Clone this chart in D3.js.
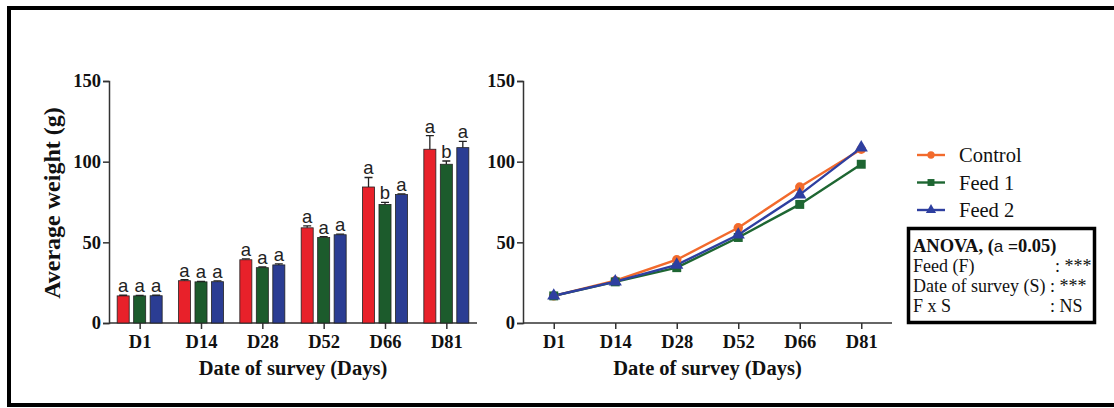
<!DOCTYPE html>
<html>
<head>
<meta charset="utf-8">
<script src="https://cdn.jsdelivr.net/npm/d3@7"></script>
<style>
  html, body { margin: 0; padding: 0; background: #fff; }
</style>
</head>
<body>
<svg id="chart"></svg>
<script>
// survey days and group means (g)
const days = ['D1', 'D14', 'D28', 'D52', 'D66', 'D81'];
const groups = ['Control', 'Feed 1', 'Feed 2'];
const controlMean = [16.8, 26.2, 39.2, 59.0, 84.3, 107.7];
const feed1Mean = [16.8, 25.5, 34.3, 53.0, 73.5, 98.4];
const feed2Mean = [16.9, 25.6, 36.0, 54.7, 79.6, 108.7];
const controlErr = [0.4, 0.6, 0.6, 1.2, 5.9, 8.4];
const feed1Err = [0.3, 0.3, 0.4, 0.6, 1.3, 2.0];
const feed2Err = [0.3, 0.5, 0.6, 0.4, 0.4, 3.9];
const controlLetters = ['a', 'a', 'a', 'a', 'a', 'a'];
const feed1Letters = ['a', 'a', 'a', 'a', 'b', 'b'];
const feed2Letters = ['a', 'a', 'a', 'a', 'a', 'a'];
const yTicks = [0, 50, 100, 150];
const anovaRows = [['Feed (F)', ': ***'], ['Date of survey (S)', ': ***'], ['F x S', ': NS']];

const barColors = ['#e8212a', '#1c5b2c', '#2b3d93'];
const lineColors = ['#f26a2c', '#1e6632', '#2e3fa0'];

const means = [controlMean, feed1Mean, feed2Mean];
const errs = [controlErr, feed1Err, feed2Err];
const letters = [controlLetters, feed1Letters, feed2Letters];

const SERIF = '"Liberation Serif", "Times New Roman", serif';
const SANS = '"Liberation Sans", Arial, sans-serif';

const width = 1114, height = 408;
const svg = d3.select('#chart').attr('width', width).attr('height', height);

// outer frame (right side runs off the picture)
svg.append('path')
    .attr('d', `M1120,8 H9 V405 H1120`)
    .attr('fill', 'none')
    .attr('stroke', '#000')
    .attr('stroke-width', 4);

const y = d3.scaleLinear().domain([0, 150]).range([323, 81]);

function drawAxes(x0, x1, xScale) {
    const g = svg.append('g');
    g.append('g')
        .attr('transform', `translate(${x0},0)`)
        .call(d3.axisLeft(y).tickValues(yTicks).tickSize(6).tickPadding(2))
        .call(a => a.select('.domain').attr('stroke', '#333').attr('stroke-width', 1.5))
        .call(a => a.selectAll('line').attr('stroke', '#333').attr('stroke-width', 1.5))
        .call(a => a.selectAll('text')
            .style('font-family', SERIF).style('font-weight', 'bold')
            .style('font-size', '18.5px').attr('fill', '#111'));

    g.append('g')
        .attr('transform', `translate(0,${y(0)})`)
        .call(d3.axisBottom(xScale).tickSize(6).tickPadding(6).tickSizeOuter(0))
        .call(a => a.select('.domain').attr('d', `M${x0},0H${x1}`)
            .attr('stroke', '#333').attr('stroke-width', 1.5))
        .call(a => a.selectAll('line').attr('stroke', '#333').attr('stroke-width', 1.5))
        .call(a => a.selectAll('text')
            .style('font-family', SERIF).style('font-weight', 'bold')
            .style('font-size', '18.5px').attr('fill', '#111'));

    g.append('text')
        .attr('x', (x0 + x1) / 2)
        .attr('y', 375)
        .attr('text-anchor', 'middle')
        .style('font-family', SERIF)
        .style('font-weight', 'bold')
        .style('font-size', '20.5px')
        .attr('fill', '#111')
        .text('Date of survey (Days)');
}

// ---- left: bar chart ----
const xBar = d3.scalePoint().domain(days).range([109, 477]).padding(0.5);
const inner = d3.scaleBand().domain(groups).range([-22.5, 22.5]).paddingInner(0.27);
drawAxes(109, 477, xBar);

svg.append('text')
    .attr('transform', 'translate(60,203) rotate(-90)')
    .attr('text-anchor', 'middle')
    .style('font-family', SERIF)
    .style('font-weight', 'bold')
    .style('font-size', '24px')
    .attr('fill', '#111')
    .text('Average weight (g)');

groups.forEach((grp, gi) => {
    const data = days.map((d, i) => ({ day: d, v: means[gi][i], e: errs[gi][i], l: letters[gi][i] }));
    const g = svg.append('g');
    const cx = d => xBar(d.day) + inner(grp) + inner.bandwidth() / 2;

    // error bars (upper only)
    g.selectAll('.err').data(data).enter().append('path')
        .attr('d', d => `M${cx(d)},${y(d.v)}V${y(d.v + d.e)}M${cx(d) - 4},${y(d.v + d.e)}H${cx(d) + 4}`)
        .attr('stroke', '#222').attr('stroke-width', 1.3).attr('fill', 'none');

    g.selectAll('.bar').data(data).enter().append('rect')
        .attr('x', d => xBar(d.day) + inner(grp))
        .attr('y', d => y(d.v))
        .attr('width', inner.bandwidth())
        .attr('height', d => y(0) - y(d.v))
        .attr('fill', barColors[gi])
        .attr('stroke', '#222')
        .attr('stroke-width', 0.8);

    g.selectAll('.lbl').data(data).enter().append('text')
        .attr('x', cx)
        .attr('y', d => y(d.v + d.e) - 3)
        .attr('text-anchor', 'middle')
        .style('font-family', SANS)
        .style('font-size', '18.5px')
        .attr('fill', '#222')
        .text(d => d.l);
});

// ---- right: line chart ----
const xLine = d3.scalePoint().domain(days).range([523, 892]).padding(0.5);
drawAxes(523, 892, xLine);

const line = d3.line().x((v, i) => xLine(days[i])).y(v => y(v));
const symbols = [d3.symbolCircle, d3.symbolSquare, d3.symbolTriangle];
const symSizes = [70, 80, 75];

groups.forEach((grp, gi) => {
    svg.append('path')
        .datum(means[gi])
        .attr('d', line)
        .attr('fill', 'none')
        .attr('stroke', lineColors[gi])
        .attr('stroke-width', 2.4);
});
groups.forEach((grp, gi) => {
    svg.append('g').selectAll('path').data(means[gi]).enter().append('path')
        .attr('transform', (v, i) => `translate(${xLine(days[i])},${y(v)})`)
        .attr('d', d3.symbol().type(symbols[gi]).size(symSizes[gi]))
        .attr('fill', lineColors[gi]);
});

// legend
const legend = svg.append('g').attr('transform', 'translate(917,155)');
groups.forEach((grp, gi) => {
    const row = legend.append('g').attr('transform', `translate(0,${gi * 27.5})`);
    row.append('line').attr('x1', 0).attr('x2', 28)
        .attr('stroke', lineColors[gi]).attr('stroke-width', 2.4);
    row.append('path').attr('transform', 'translate(14,0)')
        .attr('d', d3.symbol().type(symbols[gi]).size(symSizes[gi] * 0.6))
        .attr('fill', lineColors[gi]);
    row.append('text').attr('x', 42).attr('y', 7)
        .style('font-family', SERIF)
        .style('font-size', '20.5px').attr('fill', '#111').text(grp);
});

// ANOVA box
const box = svg.append('g').attr('transform', 'translate(907,227)');
box.append('rect').attr('x', 1.5).attr('y', 1.5).attr('width', 186).attr('height', 94)
    .attr('fill', '#fff').attr('stroke', '#000').attr('stroke-width', 3.5);
const title = box.append('text').attr('x', 6).attr('y', 25)
    .style('font-family', SERIF).style('font-size', '18.5px').attr('fill', '#111');
title.append('tspan').style('font-weight', 'bold').text('ANOVA, (');
title.append('tspan').style('font-family', SANS).style('font-size', '17px').text('a =');
title.append('tspan').style('font-weight', 'bold').text('0.05)');
const colonX = [148, null, 143];
anovaRows.forEach((r, i) => {
    const t = box.append('text').attr('x', 6).attr('y', 45 + i * 20)
        .style('font-family', SERIF)
        .style('font-size', '18px').attr('fill', '#111');
    t.append('tspan').text(r[0]);
    const c = t.append('tspan');
    if (colonX[i] !== null) c.attr('x', colonX[i]).text(r[1]);
    else c.text(' ' + r[1]);
});
</script>
</body>
</html>
